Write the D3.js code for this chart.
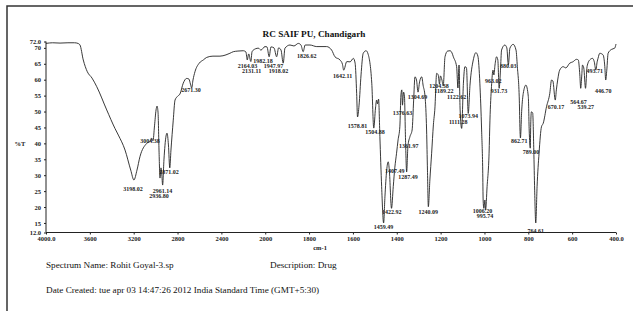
<!DOCTYPE html>
<html>
<head>
<meta charset="utf-8">
<script src="https://cdn.jsdelivr.net/npm/d3@7"></script>
<style>
  body { margin: 0; background: #fff; }
  svg { display: block; }
  .axis path, .axis line { stroke: #222; stroke-width: 1; }
  .axis text { font-family: "Liberation Serif", serif; font-weight: bold; font-size: 6.5px; fill: #222; }
  .peak { font-family: "Liberation Serif", serif; font-weight: bold; font-size: 6px; fill: #222; }
  .info { font-family: "Liberation Serif", serif; font-size: 9.2px; fill: #111; }
</style>
</head>
<body>
<svg id="chart"></svg>
<script>
// spectrum, wavenumber (cm-1) vs %T
var wavenumbers = [4000,3940,3872,3800,3740,3708,3690,3660,3623,3580,3537,3446,3371,3340,3279,3227,3198,3170,3143,3081,3045,3038,3024,3010,2996,2987,2978,2969,2960,2951,2944,2936,2924,2905,2896,2883,2871,2860,2839,2823,2796,2778,2748,2717,2696,2682,2671,2659,2641,2602,2565,2534,2477,2413,2358,2322,2291,2249,2200,2176,2164,2151,2131,2121,2109,2063,2039,2002,1992,1982,1974,1960,1948,1939,1928,1918,1910,1887,1869,1849,1837,1827,1818,1796,1765,1720,1697,1682,1659,1648,1642,1628,1613,1598,1590,1583,1579,1572,1563,1553,1540,1531,1514,1505,1497,1492,1488,1483,1477,1469,1460,1454,1446,1439,1434,1424,1416,1409,1401,1394,1386,1381,1377,1374,1369,1365,1360,1355,1349,1340,1330,1323,1317,1310,1303,1296,1286,1280,1271,1264,1260,1256,1249,1241,1233,1226,1218,1211,1205,1201,1194,1188,1180,1168,1157,1148,1142,1127,1121,1116,1111,1104,1096,1089,1082,1074,1066,1051,1039,1030,1021,1013,1008,1006,1003,998,995,988,979,975,968,961,957,952,945,939,933,927,922,907,898,891,884,869,856,850,841,838,836,830,823,811,800,796,791,789,786,780,775,771,766,760,751,740,732,717,702,694,688,677,672,666,657,641,629,611,597,580,572,565,561,556,553,547,539,532,520,507,499,492,486,482,474,459,451,447,442,436,421,406,400];
var transmittance = [71.4,71.6,71.5,71.6,71.6,71.4,70.9,66.2,62.5,60.5,57.8,50.5,44.7,42.6,37.9,31.6,28.5,31.6,35.8,40.0,40.8,41.7,40.8,45.5,50.5,51.7,49.8,37.9,29.1,32.3,30.5,26.9,34.8,42.3,43.2,39.5,32.3,37.9,47.3,53.6,54.9,55.5,58.9,60.4,60.2,58.6,57.4,59.9,62.5,65.2,66.2,67.0,67.4,67.4,67.8,68.3,68.8,69.0,69.1,68.7,66.2,68.1,65.7,68.7,69.3,69.9,69.3,70.4,70.3,67.2,70.3,70.0,67.2,70.0,69.3,65.2,69.9,70.9,70.6,71.4,70.9,68.8,70.9,70.9,70.4,70.4,69.3,67.2,66.2,64.9,63.0,65.7,65.6,66.7,65.2,55.7,48.3,52.0,61.5,68.3,69.1,68.1,58.9,44.8,51.1,53.6,52.4,53.9,42.1,26.4,15.0,23.2,31.6,34.2,31.6,19.6,26.4,32.3,36.9,41.1,45.2,55.2,56.8,52.0,56.1,54.9,41.0,31.0,39.2,42.1,44.2,53.6,60.9,59.9,56.1,59.3,60.9,58.3,54.7,44.2,31.6,20.1,28.5,36.9,45.8,51.1,62.0,61.5,58.6,61.2,59.9,58.0,67.2,69.0,69.1,68.4,67.2,64.1,57.4,64.6,50.5,44.7,58.9,64.1,63.7,49.4,58.3,66.2,68.5,67.4,58.9,44.2,31.6,22.2,19.6,22.2,19.0,26.4,36.9,47.3,57.8,63.0,61.5,64.6,67.2,66.2,57.3,63.0,69.3,70.9,70.0,64.6,69.9,71.1,69.3,64.1,53.6,44.2,41.7,50.5,55.7,58.3,54.7,44.2,38.5,45.8,49.9,49.5,37.9,25.3,15.0,26.4,36.9,45.2,46.3,51.5,55.7,59.9,59.6,53.6,56.8,59.9,63.0,64.1,63.7,65.2,65.6,66.4,66.2,61.5,57.3,61.5,64.6,63.7,57.3,64.1,66.2,66.7,65.6,63.0,65.6,66.7,68.3,67.8,64.1,59.9,63.0,68.3,69.5,69.9,71.2];

// peak labels: text, and where the text sits (wavenumber, %T)
var peakText = ["3198.02","3004.38","2961.14","2936.80","2871.02","2671.30","2164.03","2131.11","1982.18","1947.97","1918.02","1826.62","1642.11","1578.81","1504.88","1459.49","1422.92","1407.49","1287.49","1361.97","1376.63","1304.69","1240.09","1204.38","1189.22","1122.62","1073.94","1111.28","1006.20","995.74","963.02","931.73","880.03","862.71","789.00","764.61","670.17","564.67","539.27","493.71","446.70"];
var peakWn = [3206,3051,2937,2969,2878,2677,2162,2124,2020,1962,1940,1811,1647,1579,1499,1461,1423,1409,1349,1345,1374,1305,1256,1207,1185,1127,1074,1120,1009,998,960,934,891,841,788,766,674,571,538,497,458];
var peakT = [25.6,40.7,25.0,23.4,31.1,56.8,64.4,62.8,65.9,64.4,62.8,67.4,61.2,45.5,43.7,13.8,18.5,31.4,29.5,39.2,49.6,54.7,18.5,58.0,56.5,54.7,48.6,46.8,18.8,17.2,59.6,56.5,64.3,40.7,37.4,12.5,51.5,53.1,51.5,62.8,56.5];

var xTicks = [4000,3600,3200,2800,2400,2000,1800,1600,1400,1200,1000,800,600,400];
var xTickLabels = ["4000.0","3600","3200","2800","2400","2000","1800","1600","1400","1200","1000","800","600","400.0"];
var yTicks = [72,70,65,60,55,50,45,40,35,30,25,20,15,12];
var yTickLabels = ["72.0","70","65","60","55","50","45","40","35","30","25","20","15","12.0"];

var dimensions = {
    width: 633,
    height: 311,
    margin: { top: 41.5, bottom: 78.5, left: 46, right: 17 }
}

var svg = d3.select("#chart")
            .attr("width", dimensions.width)
            .attr("height", dimensions.height)

// frame
svg.append("path")
   .attr("d", "M7," + dimensions.height + "V6H" + dimensions.width)
   .attr("fill", "none")
   .attr("stroke", "#333")
   .attr("stroke-width", 1.5)

var x0 = dimensions.margin.left
var x1 = dimensions.width - dimensions.margin.right
// scale changes at 2000 cm-1 (5 of 13 intervals on the left)
var xScale = d3.scaleLinear()
               .domain([4000, 2000, 400])
               .range([x0, x0 + (x1 - x0) * 5 / 13, x1])

var yScale = d3.scaleLinear()
               .domain([12, 72])
               .range([dimensions.height - dimensions.margin.bottom, dimensions.margin.top])

var points = wavenumbers.map((w, i) => ({ wn: w, t: transmittance[i] }))

var line = d3.line()
             .x(d => xScale(d.wn))
             .y(d => yScale(d.t))
             .curve(d3.curveMonotoneX)

svg.append("path")
   .datum(points)
   .attr("d", line)
   .attr("fill", "none")
   .attr("stroke", "#222")
   .attr("stroke-width", 0.9)

var xAxisGen = d3.axisBottom(xScale)
                 .tickValues(xTicks)
                 .tickSize(2)
                 .tickPadding(2)
                 .tickFormat((d, i) => xTickLabels[i])
svg.append("g")
   .attr("class", "axis")
   .attr("transform", `translate(0,${yScale(12)})`)
   .call(xAxisGen)
   .call(g => g.select(".domain").attr("d", `M${x0},0H${x1}`))

var yAxisGen = d3.axisLeft(yScale)
                 .tickValues(yTicks)
                 .tickSize(2)
                 .tickPadding(3)
                 .tickFormat((d, i) => yTickLabels[i])
svg.append("g")
   .attr("class", "axis")
   .attr("transform", `translate(${x0},0)`)
   .call(yAxisGen)
   .call(g => g.select(".domain").attr("d", `M0,${yScale(72)}V${yScale(12)}`))

// peak labels
svg.append("g")
   .selectAll("text")
   .data(peakText)
   .enter()
   .append("text")
   .attr("class", "peak")
   .attr("x", (d, i) => xScale(peakWn[i]))
   .attr("y", (d, i) => yScale(peakT[i]))
   .attr("dy", "0.35em")
   .attr("text-anchor", "middle")
   .text(d => d)

svg.append("text")
   .attr("class", "peak")
   .attr("x", 20)
   .attr("y", yScale(40))
   .attr("dy", "0.35em")
   .attr("text-anchor", "middle")
   .style("font-size", "6.5px")
   .text("%T")

svg.append("text")
   .attr("class", "peak")
   .attr("x", xScale(1750))
   .attr("y", 248)
   .attr("dy", "0.35em")
   .attr("text-anchor", "middle")
   .style("font-size", "6.5px")
   .text("cm-1")

svg.append("text")
   .attr("x", 314)
   .attr("y", 34)
   .attr("dy", "0.35em")
   .attr("text-anchor", "middle")
   .style("font-family", "Liberation Serif, serif")
   .style("font-weight", "bold")
   .style("font-size", "9.2px")
   .style("fill", "#111")
   .text("RC SAIF PU, Chandigarh")

svg.append("text").attr("class", "info")
   .attr("x", 46).attr("y", 265).attr("dy", "0.35em")
   .text("Spectrum Name: Rohit Goyal-3.sp")
svg.append("text").attr("class", "info")
   .attr("x", 270).attr("y", 265).attr("dy", "0.35em")
   .text("Description: Drug")
svg.append("text").attr("class", "info")
   .attr("x", 46).attr("y", 290).attr("dy", "0.35em")
   .text("Date Created: tue apr 03 14:47:26 2012 India Standard Time (GMT+5:30)")
</script>
</body>
</html>
